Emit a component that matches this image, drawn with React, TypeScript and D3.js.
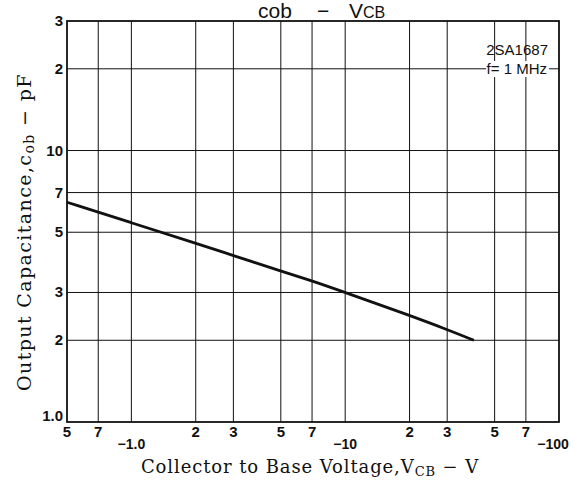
import React from "react";
import * as d3 from "d3";

const voltage = [0.5, 1, 2, 3, 5, 7, 10, 20, 30, 40];
const capacitance = [6.45, 5.42, 4.56, 4.1, 3.6, 3.31, 3.0, 2.47, 2.19, 2.0];

const xGrid = [0.7, 1, 2, 3, 5, 7, 10, 20, 30, 50, 70];
const yGrid = [2, 3, 5, 7, 10, 20];

const xTickMinor = [
  { v: 0.5, t: "5" },
  { v: 0.7, t: "7" },
  { v: 2, t: "2" },
  { v: 3, t: "3" },
  { v: 5, t: "5" },
  { v: 7, t: "7" },
  { v: 20, t: "2" },
  { v: 30, t: "3" },
  { v: 50, t: "5" },
  { v: 70, t: "7" },
];
const xTickMajor = [
  { v: 1, t: "−1.0" },
  { v: 10, t: "−10" },
  { v: 100, t: "−100" },
];
const yTicks = [
  { v: 1, t: "1.0" },
  { v: 2, t: "2" },
  { v: 3, t: "3" },
  { v: 5, t: "5" },
  { v: 7, t: "7" },
  { v: 10, t: "10" },
  { v: 20, t: "2" },
  { v: 30, t: "3" },
];

const W = 573;
const H = 483;
const L = 67, R = 559, T = 21, B = 422;

export default function App() {
  const x = d3.scaleLog().domain([0.5, 100]).range([L, R]);
  const y = d3.scaleLog().domain([1, 30]).range([B, T]);
  const pts: [number, number][] = voltage.map((v, i) => [v, capacitance[i]]);
  const line = d3
    .line<[number, number]>()
    .x((d) => x(d[0]))
    .y((d) => y(d[1]))
    .curve(d3.curveBasis);

  const sans = "'Liberation Sans', Arial, sans-serif";
  const serif = "'DejaVu Serif', 'Liberation Serif', serif";
  const ink = "#111";

  return (
    <svg
      width={W}
      height={H}
      viewBox={`0 0 ${W} ${H}`}
      style={{ position: "absolute", left: 0, top: 0, background: "#fff" }}
    >
      <rect x={0} y={0} width={W} height={H} fill="#fff" />
      {/* Title */}
      <text x={258} y={18} fontFamily={sans} fontSize={21} fill={ink}>cob</text>
      <text x={317} y={18} fontFamily={sans} fontSize={21} fill={ink}>−</text>
      <text x={349} y={18} fontFamily={sans} fontSize={21} fill={ink}>
        V<tspan fontSize={16}>CB</tspan>
      </text>

      {/* grid */}
      {xGrid.map((v) => (
        <line key={"gx" + v} x1={x(v)} x2={x(v)} y1={T} y2={B} stroke={ink} strokeWidth={1} />
      ))}
      {yGrid.map((v) => (
        <line key={"gy" + v} x1={L} x2={R} y1={y(v)} y2={y(v)} stroke={ink} strokeWidth={1} />
      ))}
      <rect x={L} y={T} width={R - L} height={B - T} fill="none" stroke={ink} strokeWidth={1.8} />

      {/* annotation */}
      <rect x={486} y={61} width={63} height={16} fill="#fff" />
      <text x={548} y={55} textAnchor="end" fontFamily={sans} fontSize={15} fill={ink}>
        2SA1687
      </text>
      <text x={547} y={74} textAnchor="end" fontFamily={sans} fontSize={15} fill={ink}>
        f= 1 MHz
      </text>

      {/* curve */}
      <path d={line(pts) || ""} fill="none" stroke={ink} strokeWidth={2.8} />

      {/* y ticks */}
      {yTicks.map((d) => (
        <text
          key={"yt" + d.v}
          x={L - 4}
          y={y(d.v) + (d.v === 1 ? -1 : 5)}
          textAnchor="end"
          fontFamily={sans}
          fontWeight="bold"
          fontSize={15}
          fill={ink}
        >
          {d.t}
        </text>
      ))}

      {/* x ticks */}
      {xTickMinor.map((d) => (
        <text
          key={"xt" + d.v}
          x={x(d.v)}
          y={B + 15}
          textAnchor="middle"
          fontFamily={sans}
          fontWeight="bold"
          fontSize={15}
          fill={ink}
        >
          {d.t}
        </text>
      ))}
      {xTickMajor.map((d) => (
        <text
          key={"xm" + d.v}
          x={x(d.v) - (d.v === 100 ? 6 : 0)}
          y={B + 27}
          textAnchor="middle"
          fontFamily={sans}
          fontWeight="bold"
          fontSize={14}
          fill={ink}
        >
          {d.t}
        </text>
      ))}

      {/* axis titles */}
      <text
        x={310}
        y={473}
        textAnchor="middle"
        fontFamily={serif}
        fontSize={18}
        letterSpacing={0.9}
        fill={ink}
      >
        Collector to Base Voltage,V
        <tspan fontSize={13} dy={3}>CB</tspan>
        <tspan dy={-3}> − V</tspan>
      </text>
      <text
        transform={`translate(31, 232) rotate(-90)`}
        textAnchor="middle"
        fontFamily={serif}
        fontSize={19}
        letterSpacing={1.4}
        fill={ink}
      >
        Output Capacitance,c
        <tspan fontSize={14} dy={3}>ob</tspan>
        <tspan dy={-3}> − pF</tspan>
      </text>
    </svg>
  );
}
